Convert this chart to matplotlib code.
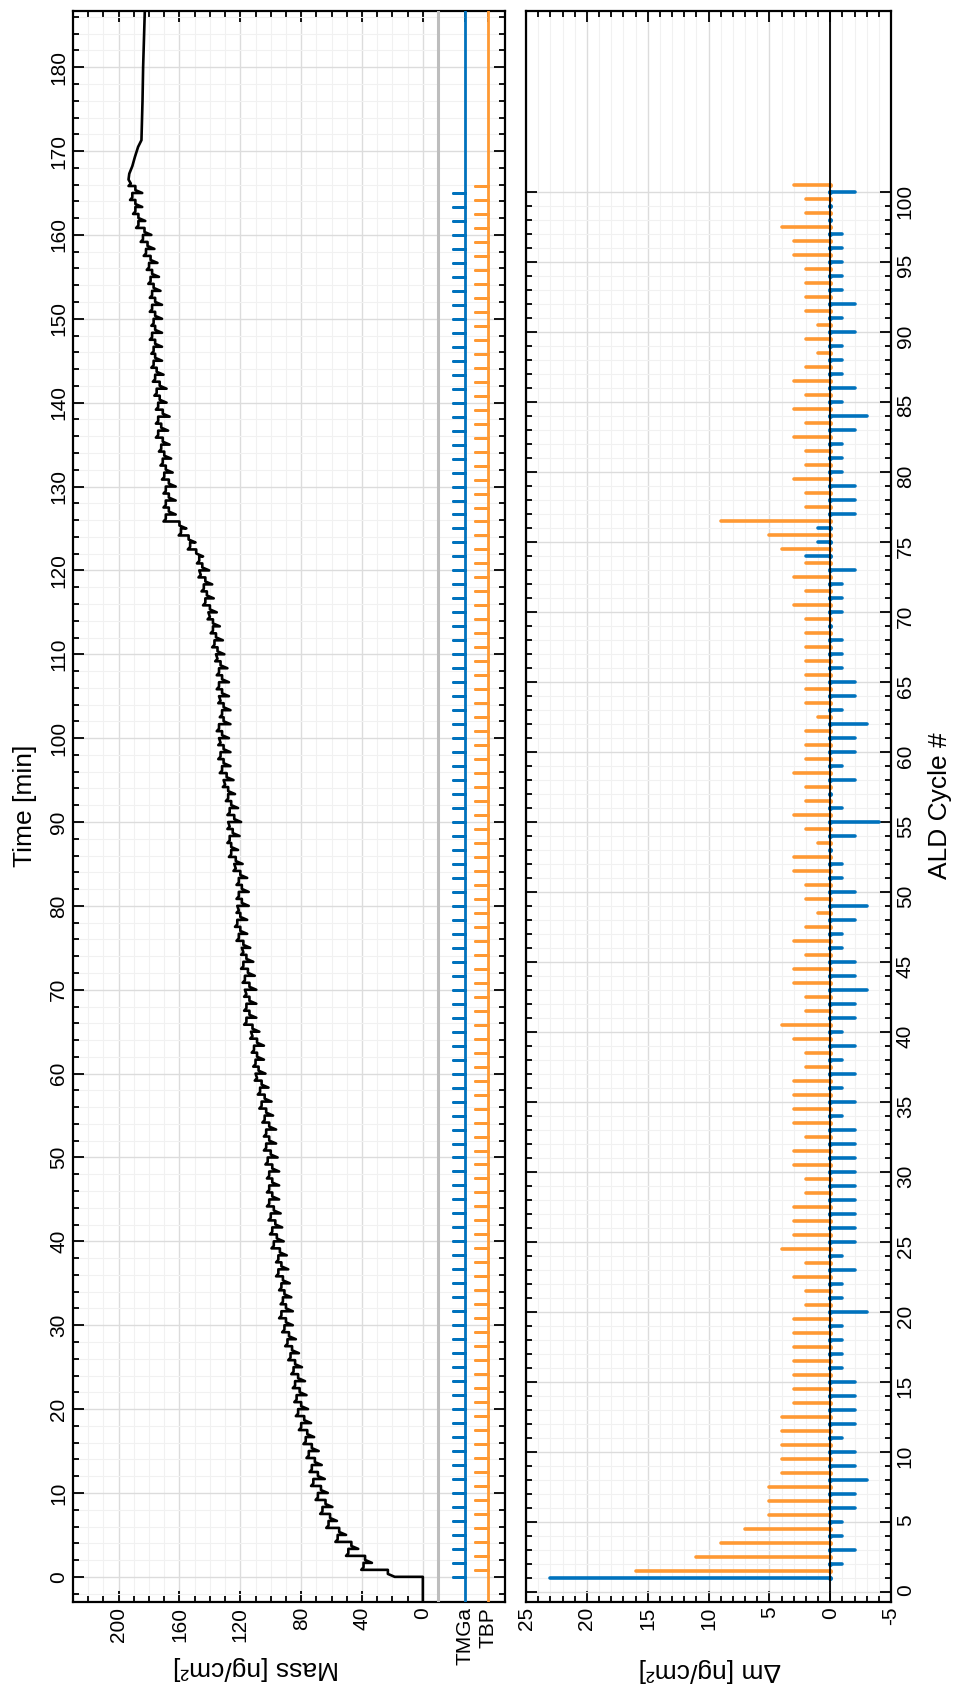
import numpy as np
import matplotlib.pyplot as plt
from matplotlib.ticker import MultipleLocator, FixedLocator

plt.rcParams['font.family'] = ['Liberation Sans', 'DejaVu Sans']

# ALD cycles and mass change per half-cycle [ng/cm2]
cycles = np.arange(1, 101)
dm_tmga = [23, -1, -2, -1, -1, -2, -2, -3, -2, -2,
           -1, -2, -2, -2, -2, -1, -1, -1, -1, -3,
           -1, -1, -2, -1, -2, -2, -2, -2, -2, -2,
           -2, -2, -2, -1, -2, -1, -2, -1, -2, -1,
           -2, -2, -3, -2, -2, -1, -1, -2, -3, -2,
           -1, -1, 0, -2, -4, -1, 0, -2, -1, -2,
           -2, -3, -1, -2, -2, -1, -1, -1, 0, -1,
           -1, -1, -2, 2, 1, 1, -2, -2, -2, -1,
           -1, -1, -2, -3, -1, -2, -1, -1, -1, -2,
           -1, -2, -1, -1, -1, -1, -1, 0, 0, -2]
dm_tbp = [16, 11, 9, 7, 5, 5, 5, 4, 4, 4,
          4, 4, 3, 3, 3, 3, 3, 3, 3, 2,
          2, 3, 2, 4, 3, 3, 3, 2, 2, 3,
          3, 2, 3, 3, 3, 3, 2, 2, 3, 4,
          2, 2, 3, 3, 2, 3, 2, 1, 2, 2,
          3, 3, 1, 2, 3, 2, 2, 3, 2, 2,
          2, 1, 2, 2, 2, 2, 2, 2, 2, 3,
          2, 3, 2, 4, 5, 9, 2, 2, 3, 2,
          2, 3, 2, 3, 2, 3, 2, 1, 2, 1,
          2, 2, 2, 2, 3, 3, 4, 2, 2, 3]

# QCM mass right before each TMGa pulse [ng/cm2]
mass_start = [0, 39, 49, 56, 62, 66, 69, 72, 73, 75,
              77, 80, 82, 83, 84, 85, 87, 89, 91, 93,
              92, 93, 95, 95, 98, 99, 100, 101, 101, 101,
              102, 103, 103, 104, 106, 107, 110, 110, 111, 113,
              116, 116, 117, 117, 118, 119, 121, 122, 122, 121,
              121, 124, 126, 127, 128, 127, 128, 131, 132, 133,
              134, 134, 132, 134, 134, 134, 136, 137, 138, 141,
              143, 144, 147, 147, 153, 159, 169, 169, 169, 170,
              171, 172, 174, 174, 174, 175, 176, 177, 177, 178,
              177, 178, 178, 179, 180, 182, 184, 187, 189, 191]
tmga_dip = 4.5          # negative transient at each TMGa pulse
tbp_peak = 1.5          # positive transient at each TBP pulse

cycle_time = 100 / 60   # min
tbp_delay = 50 / 60     # min after TMGa pulse

# QCM mass after the last cycle
tail_t = [166.6, 167.3, 168.2, 169.3, 170.5, 171.3, 176.0, 180.0, 184.0, 186.7]
tail_m = [193.5, 193.0, 191.0, 189.3, 187.2, 185.0, 184.3, 183.9, 183.2, 182.8]

blue = '#0072BD'
orange = '#FF9933'

t_tmga = (cycles - 1) * cycle_time
t_tbp = t_tmga + tbp_delay

# mass trace: TMGa step, TBP step, each with a short transient
tr_t = [-3.0]
tr_m = [0.0]
for i in range(len(cycles)):
    lvl = mass_start[i]
    after_tmga = lvl + dm_tmga[i]
    after_tbp = after_tmga + dm_tbp[i]
    tr_t += [t_tmga[i], t_tmga[i], t_tmga[i] + 0.35,
             t_tbp[i], t_tbp[i], t_tbp[i] + 0.3]
    tr_m += [lvl, after_tmga - tmga_dip, after_tmga,
             after_tmga, after_tbp + tbp_peak, after_tbp]
tr_t += tail_t
tr_m += tail_m

fig = plt.figure(figsize=(9.56, 16.88), dpi=100)
ax1 = fig.add_axes([73 / 956, 86 / 1688, 432 / 956, 1591 / 1688])
ax2 = fig.add_axes([526 / 956, 86 / 1688, 365 / 956, 1591 / 1688])

# ---- mass vs time (drawn sideways) ----
ax1.plot(tr_m, tr_t, color='k', lw=1.9, zorder=5)
ax1.axvline(-10, color='#bdbdbd', lw=2.2, zorder=3)

for t_list, base, col in [(t_tmga, -28, blue), (t_tbp, -42.5, orange)]:
    px = [base]
    py = [-3.0]
    for t in t_list:
        px += [base, base + 8, base]
        py += [t, t, t]
    px += [base]
    py += [186.7]
    ax1.plot(px, py, color=col, lw=2.0, zorder=4)

ax1.set_xlim(230, -54)
ax1.set_ylim(-3.0, 186.7)
ax1.set_xticks([200, 160, 120, 80, 40, 0, -28, -42.5],
               labels=['200', '160', '120', '80', '40', '0', 'TMGa', 'TBP'])
ax1.xaxis.set_minor_locator(FixedLocator(np.arange(0, 231, 10)))
ax1.yaxis.set_major_locator(MultipleLocator(10))
ax1.yaxis.set_minor_locator(MultipleLocator(2))
for tk in ax1.xaxis.get_major_ticks()[-2:]:
    tk.tick1line.set_visible(False)
    tk.tick2line.set_visible(False)
    tk.gridline.set_visible(False)

# ---- delta m per cycle (drawn sideways) ----
ax2.hlines(cycles, 0, dm_tmga, color=blue, lw=2.6, capstyle='round', zorder=4)
ax2.hlines(cycles + 0.5, 0, dm_tbp, color=orange, lw=2.6, capstyle='round', zorder=4)
ax2.plot(np.zeros(len(cycles)), cycles, 'o', color=blue, ms=2.6, zorder=4)
ax2.plot(np.zeros(len(cycles)), cycles + 0.5, 'o', color=orange, ms=2.6, zorder=4)
ax2.axvline(0, color='k', lw=1.3, zorder=5)

ax2.set_xlim(25, -5)
ax2.set_ylim(-0.7, 112.9)
ax2.xaxis.set_major_locator(MultipleLocator(5))
ax2.xaxis.set_minor_locator(MultipleLocator(1))
ax2.yaxis.set_major_locator(FixedLocator(np.arange(0, 101, 5)))
ax2.yaxis.set_minor_locator(FixedLocator(np.arange(0, 101, 1)))
ax2.set_xticklabels([f'{v:g}' for v in ax2.get_xticks()])

for ax in (ax1, ax2):
    ax.set_axisbelow(True)
    ax.grid(which='major', color='#dcdcdc', lw=1.0)
    ax.grid(which='minor', color='#f1f1f1', lw=0.8)
    ax.tick_params(which='both', direction='in', top=True, right=True,
                   width=1.3, labelsize=15, labelrotation=90)
    ax.tick_params(which='major', length=8)
    ax.tick_params(which='minor', length=4)
    for s in ax.spines.values():
        s.set_linewidth(1.6)
    for lab in ax.get_yticklabels():
        lab.set_va('center')

ax2.tick_params(axis='y', labelleft=False, labelright=True)
for lab in ax2.get_yticklabels():
    lab.set_ha('left')

fig.text(25 / 956, 1 - 806 / 1688, 'Time [min]', rotation=90,
         ha='center', va='center', fontsize=19)
fig.text(256 / 956, 1 - 1668 / 1688, 'Mass [ng/cm²]', rotation=180,
         ha='center', va='center', fontsize=19)
fig.text(710 / 956, 1 - 1670 / 1688, 'Δm [ng/cm²]', rotation=180,
         ha='center', va='center', fontsize=19)
fig.text(940 / 956, 1 - 806 / 1688, 'ALD Cycle #', rotation=90,
         ha='center', va='center', fontsize=19)

fig.savefig('out.png', dpi=100)
